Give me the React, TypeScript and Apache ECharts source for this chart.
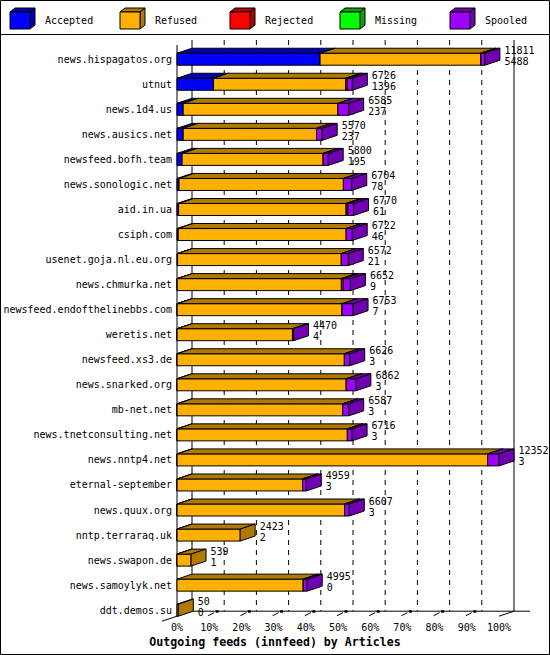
import React, { useEffect, useRef } from 'react';
import * as echarts from 'echarts';

// ---------- data ----------
const hosts = [
  'news.hispagatos.org', 'utnut', 'news.1d4.us', 'news.ausics.net', 'newsfeed.bofh.team',
  'news.sonologic.net', 'aid.in.ua', 'csiph.com', 'usenet.goja.nl.eu.org', 'news.chmurka.net',
  'newsfeed.endofthelinebbs.com', 'weretis.net', 'newsfeed.xs3.de', 'news.snarked.org', 'mb-net.net',
  'news.tnetconsulting.net', 'news.nntp4.net', 'eternal-september', 'news.quux.org', 'nntp.terraraq.uk',
  'news.swapon.de', 'news.samoylyk.net', 'ddt.demos.su',
];
const offered = [11811, 6726, 6585, 5570, 5800, 6704, 6770, 6722, 6572, 6652, 6753, 4470, 6626, 6862, 6587, 6716, 12352, 4959, 6607, 2423, 539, 4995, 50];
const accepted = [5488, 1396, 237, 237, 195, 78, 61, 46, 21, 9, 7, 4, 3, 3, 3, 3, 3, 3, 3, 2, 1, 0, 0];
const refused = [6170, 5080, 5938, 5115, 5413, 6306, 6429, 6446, 6283, 6298, 6324, 4426, 6418, 6489, 6354, 6533, 11914, 4816, 6427, 2421, 538, 4842, 50];
const rejected = [0, 60, 0, 0, 0, 0, 65, 0, 0, 77, 0, 0, 0, 0, 0, 0, 0, 0, 0, 0, 0, 0, 0];
const missing = [0, 0, 0, 0, 0, 0, 0, 0, 0, 0, 0, 0, 0, 0, 0, 0, 0, 0, 0, 0, 0, 0, 0];
const spooled = [153, 190, 410, 218, 192, 320, 215, 230, 268, 268, 422, 40, 205, 370, 230, 180, 435, 140, 177, 0, 0, 153, 0];
const legendNames = ['Accepted', 'Refused', 'Rejected', 'Missing', 'Spooled'];
const tickPercents = [0, 10, 20, 30, 40, 50, 60, 70, 80, 90, 100];
const axisMax = 12352;
const titleText = 'Outgoing feeds (innfeed) by Articles';

// ---------- styles ----------
const FRONT = ['#0000FF', '#FFB000', '#FF0000', '#00FF00', '#A000FF'];
const DARK = ['#0000B0', '#B07A00', '#B00000', '#00A800', '#7000B0'];
const MONO = '"DejaVu Sans Mono", "Liberation Mono", monospace';
const DX = 15;
const DY = 5;

export default function App() {
  const ref = useRef<HTMLDivElement>(null);

  useEffect(() => {
    document.body.style.margin = '0';
    const chart = echarts.init(ref.current!, null, { renderer: 'svg' });

    const barData = hosts.map((_, i) => [i, accepted[i], refused[i], rejected[i], missing[i], spooled[i], offered[i]]);
    const tickData = tickPercents.map((p) => [(p / 100) * axisMax, p]);

    const renderGrid = (params: any, api: any) => {
      const cs = params.coordSys;
      const v = api.value(0);
      const p = api.value(1);
      const x = api.coord([v, 0])[0];
      const topFront = cs.y - 1.7;
      const topBack = topFront - DY;
      const floorFront = cs.y + cs.height - 6.5;
      const floorBack = floorFront - DY;
      const children: any[] = [];
      const ls = { stroke: '#000', lineWidth: 1 };
      if (p === 0) {
        children.push({ type: 'line', shape: { x1: x + DX, y1: topBack, x2: x + DX, y2: floorBack }, style: ls });
        children.push({ type: 'line', shape: { x1: x, y1: topFront, x2: x, y2: floorFront }, style: ls });
        children.push({ type: 'line', shape: { x1: x - DX, y1: floorFront + DY, x2: x + DX, y2: floorBack }, style: ls });
        children.push({ type: 'line', shape: { x1: x + DX, y1: floorBack, x2: cs.x + cs.width + DX + 16, y2: floorBack }, style: ls });
      } else if (p === 100) {
        children.push({ type: 'line', shape: { x1: x + DX, y1: topBack, x2: x + DX, y2: floorBack }, style: ls });
        children.push({ type: 'line', shape: { x1: x, y1: floorFront, x2: x + DX, y2: floorBack }, style: ls });
      } else {
        children.push({
          type: 'line',
          shape: { x1: x + DX, y1: topBack, x2: x + DX, y2: floorBack },
          style: { stroke: '#000', lineWidth: 1, lineDash: [5, 5] },
        });
        children.push({ type: 'line', shape: { x1: x - 1, y1: floorFront - 0.5, x2: x + 5, y2: floorFront - 3.5 }, style: ls });
        children.push({ type: 'rect', shape: { x: x + 6.5, y: floorBack - 1, width: 3, height: 2.5 }, style: { fill: '#000' } });
      }
      return { type: 'group', children };
    };

    const renderBar = (params: any, api: any) => {
      const i = api.value(0);
      const vals = [api.value(1), api.value(2), api.value(3), api.value(4), api.value(5)];
      const total = api.value(6);
      const yc = api.coord([0, i])[1];
      const yt = yc - 6;
      const yb = yc + 6;
      let cum = 0;
      const children: any[] = [];
      vals.forEach((v: number, k: number) => {
        if (!(v > 0)) return;
        const xs = api.coord([cum, i])[0];
        cum += v;
        const xe = api.coord([cum, i])[0];
        const st = { stroke: '#000', lineWidth: 1 };
        children.push({
          type: 'rect',
          shape: { x: xs, y: yt, width: Math.max(xe - xs, 0.01), height: yb - yt },
          style: { ...st, fill: FRONT[k] },
        });
        children.push({
          type: 'polygon',
          shape: { points: [[xs, yt], [xe, yt], [xe + DX, yt - DY], [xs + DX, yt - DY]] },
          style: { ...st, fill: DARK[k] },
        });
        children.push({
          type: 'polygon',
          shape: { points: [[xe, yt], [xe + DX, yt - DY], [xe + DX, yb - DY], [xe, yb]] },
          style: { ...st, fill: DARK[k] },
        });
      });
      const xl = api.coord([total, i])[0] + 19.5;
      children.push({
        type: 'text',
        style: { text: String(total), x: xl, y: yc - 9, fill: '#000', font: `10px ${MONO}`, textVerticalAlign: 'middle' },
      });
      children.push({
        type: 'text',
        style: { text: String(api.value(1)), x: xl, y: yc + 2, fill: '#000', font: `10px ${MONO}`, textVerticalAlign: 'middle' },
      });
      return { type: 'group', children };
    };

    const legendGraphics: any[] = [];
    legendNames.forEach((name, k) => {
      const x0 = 10 + k * 110;
      const y0 = 12;
      const w = 20;
      const h = 17;
      const dx = 5;
      const dy = 4;
      const st = { stroke: '#000', lineWidth: 1 };
      legendGraphics.push({ type: 'polygon', shape: { points: [[x0, y0], [x0 + w, y0], [x0 + w + dx, y0 - dy], [x0 + dx, y0 - dy]] }, style: { ...st, fill: DARK[k] } });
      legendGraphics.push({ type: 'polygon', shape: { points: [[x0 + w, y0], [x0 + w + dx, y0 - dy], [x0 + w + dx, y0 + h - dy], [x0 + w, y0 + h]] }, style: { ...st, fill: DARK[k] } });
      legendGraphics.push({ type: 'rect', shape: { x: x0, y: y0, width: w, height: h }, style: { ...st, fill: FRONT[k] } });
      legendGraphics.push({ type: 'text', x: x0 + 35, y: 20.5, style: { text: name, fill: '#000', font: `10px ${MONO}`, textVerticalAlign: 'middle' } });
    });

    chart.setOption({
      animation: false,
      backgroundColor: '#fff',
      grid: { left: 177, right: 51, top: 46.7, bottom: 32.3, containLabel: false },
      xAxis: {
        type: 'value',
        min: 0,
        max: axisMax,
        interval: axisMax / 10,
        axisLine: { show: false },
        axisTick: { show: false },
        splitLine: { show: false },
        axisLabel: {
          margin: 0,
          color: '#000',
          fontFamily: MONO,
          fontSize: 10,
          showMaxLabel: true,
          showMinLabel: true,
          formatter: (v: number) => `${Math.round((v / axisMax) * 100)}%`,
        },
      },
      yAxis: {
        type: 'category',
        inverse: true,
        data: hosts,
        axisLine: { show: false },
        axisTick: { show: false },
        splitLine: { show: false },
        axisLabel: { margin: 5, color: '#000', fontFamily: MONO, fontSize: 10, interval: 0 },
      },
      series: [
        { type: 'custom', name: 'grid', renderItem: renderGrid, data: tickData, silent: true, clip: false, z: 1 },
        { type: 'custom', name: 'bars', renderItem: renderBar, data: barData, silent: true, clip: false, z: 2 },
      ],
      graphic: [
        { type: 'rect', shape: { x: 0.5, y: 0.5, width: 549, height: 654 }, style: { fill: 'none', stroke: '#000', lineWidth: 1 }, z: 10 },
        { type: 'line', shape: { x1: 0, y1: 34.5, x2: 550, y2: 34.5 }, style: { stroke: '#000', lineWidth: 1 }, z: 10 },
        ...legendGraphics.map((g) => ({ ...g, z: 10 })),
        {
          type: 'text',
          x: 275,
          y: 641.5,
          z: 10,
          style: { text: titleText, fill: '#000', font: `bold 11.6px ${MONO}`, textAlign: 'center', textVerticalAlign: 'middle' },
        },
      ],
    });

    return () => chart.dispose();
  }, []);

  return <div ref={ref} style={{ width: 550, height: 655 }} />;
}
